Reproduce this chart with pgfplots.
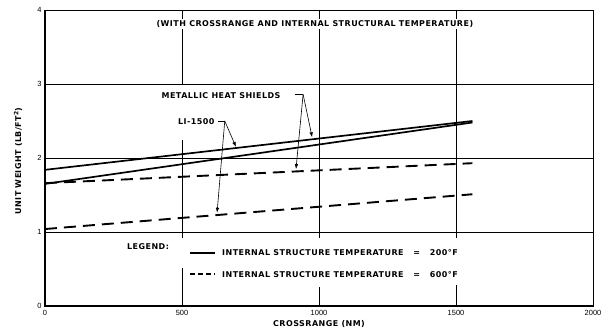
\documentclass[border=0pt]{standalone}
\usepackage{fontspec}
\setmainfont{Liberation Sans}
\newfontfamily\lblfont[LetterSpace=6]{DejaVu Sans}
\usepackage{pgfplots}
\pgfplotsset{compat=1.18}
\usetikzlibrary{arrows.meta}
\newcommand{\lbl}{\lblfont\fontsize{8}{9}\selectfont\bfseries}
\begin{document}
\begin{tikzpicture}
\begin{axis}[
  scale only axis, width=548bp, height=296bp,
  xmin=0, xmax=2000, ymin=0, ymax=4,
  xtick={0,500,1000,1500,2000}, ytick={0,1,2,3,4},
  axis line style={line width=0.6pt},
  tick style={black, line width=0.8pt},
  major tick length=4bp,
  tick align=inside,
  xtick pos=bottom, ytick pos=left,
  ticklabel style={font=\fontsize{7.5}{8}\selectfont},
  xticklabel style={yshift=-1bp},
  /pgf/number format/assume math mode=true,
  /pgf/number format/1000 sep={},
  clip=false,
]
% grid
\draw[line width=0.5pt] (axis cs:0,1)--(axis cs:2000,1);
\draw[line width=0.5pt] (axis cs:0,2)--(axis cs:2000,2);
\draw[line width=0.5pt] (axis cs:0,3)--(axis cs:2000,3);
\draw[line width=0.6pt] (axis cs:500,0)--(axis cs:500,0.52);
\draw[line width=0.6pt] (axis cs:500,0.92)--(axis cs:500,2.24);
\draw[line width=0.6pt] (axis cs:500,3)--(axis cs:500,4);
\draw[line width=0.6pt] (axis cs:1000,0)--(axis cs:1000,0.26);
\draw[line width=0.6pt] (axis cs:1000,0.92)--(axis cs:1000,4);
\draw[line width=0.6pt] (axis cs:1500,0)--(axis cs:1500,0.28);
\draw[line width=0.6pt] (axis cs:1500,0.92)--(axis cs:1500,4);
% thick left and bottom frame
\draw[line width=1.4pt] (axis cs:0,4)--(axis cs:0,0)--(axis cs:2000,0);
% data
\addplot[black, line width=1.7pt] coordinates {(0,1.84) (1560,2.50)};
\addplot[black, line width=1.7pt] coordinates {(0,1.65) (1560,2.48)};
\addplot[black, line width=1.9pt, dash pattern=on 12bp off 7bp] coordinates {(0,1.66) (1560,1.93)};
\addplot[black, line width=1.9pt, dash pattern=on 12bp off 7bp] coordinates {(0,1.04) (1560,1.51)};
% title
\node[fill=white, inner sep=1.5bp, font=\lbl] at (axis cs:985,3.81) {(WITH CROSSRANGE AND INTERNAL STRUCTURAL TEMPERATURE)};
% annotations
\node[anchor=west, inner sep=0pt, font=\lbl] at (axis cs:425,2.84) {METALLIC HEAT SHIELDS};
\draw[line width=0.6pt] (axis cs:912,2.86)--(axis cs:942,2.86);
\draw[line width=0.6pt, -{Latex[length=5bp,width=3.5bp]}] (axis cs:942,2.86)--(axis cs:975,2.28);
\draw[line width=0.6pt, -{Latex[length=5bp,width=3.5bp]}] (axis cs:942,2.86)--(axis cs:916,1.85);
\node[anchor=west, inner sep=0pt, font=\lbl] at (axis cs:485,2.49) {LI-1500};
\draw[line width=0.6pt] (axis cs:632,2.50)--(axis cs:656,2.50);
\draw[line width=0.6pt, -{Latex[length=5bp,width=3.5bp]}] (axis cs:656,2.50)--(axis cs:697,2.15);
\draw[line width=0.6pt, -{Latex[length=5bp,width=3.5bp]}] (axis cs:656,2.50)--(axis cs:628,1.26);
% legend
\node[anchor=west, inner sep=0pt, font=\lbl] at (axis cs:299,0.80) {LEGEND:};
\draw[line width=1.7pt] (axis cs:529,0.72)--(axis cs:620,0.72);
\node[anchor=west, inner sep=0pt, font=\lbl] at (axis cs:646,0.72) {INTERNAL STRUCTURE TEMPERATURE \ \ = \ \ 200°F};
\draw[line width=1.7pt, dash pattern=on 5.5bp off 2.5bp] (axis cs:529,0.43)--(axis cs:620,0.43);
\node[anchor=west, inner sep=0pt, font=\lbl] at (axis cs:646,0.43) {INTERNAL STRUCTURE TEMPERATURE \ \ = \ \ 600°F};
% axis labels
\node[font=\lbl] at (axis cs:1000,0) [yshift=-18bp] {CROSSRANGE (NM)};
\node[font=\lbl, rotate=90] at (axis cs:0,1.96) [yshift=27bp] {UNIT WEIGHT (LB/FT\textsuperscript{2})};
\coordinate (ll) at (axis cs:0,0);
\coordinate (ur) at (axis cs:2000,4);
\end{axis}
\pgfresetboundingbox
\path ([shift={(-45bp,-28bp)}]ll) rectangle ([shift={(15bp,10bp)}]ur);
\end{tikzpicture}
\end{document}
